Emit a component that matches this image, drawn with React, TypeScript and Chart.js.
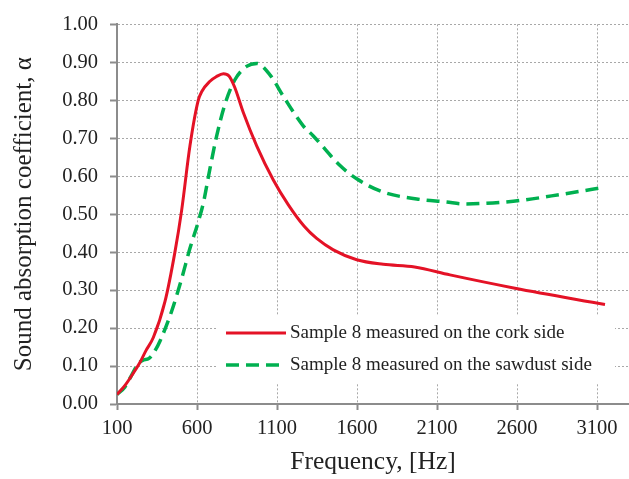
import React, { useEffect, useRef } from 'react';
import { Chart, registerables } from 'chart.js';

Chart.register(...registerables);

const xTickValues = [100, 600, 1100, 1600, 2100, 2600, 3100];
const seriesLabels = [
  'Sample 8 measured on the cork side',
  'Sample 8 measured on the sawdust side',
];

const corkFreq = [100, 150, 200, 244, 280, 327, 400, 462, 504, 556, 608, 630, 681, 720, 765, 800, 835, 890, 973, 1077, 1170, 1270, 1348, 1452, 1598, 1764, 1960, 2181, 2587, 3150];
const corkAlpha = [0.025, 0.049, 0.08, 0.11, 0.14, 0.175, 0.27, 0.40, 0.51, 0.68, 0.80, 0.823, 0.85, 0.862, 0.87, 0.864, 0.835, 0.767, 0.68, 0.59, 0.525, 0.468, 0.436, 0.406, 0.38, 0.368, 0.361, 0.34, 0.305, 0.262];

const sawFreq = [100, 150, 190, 230, 260, 300, 330, 369, 442, 504, 556, 608, 640, 681, 723, 775, 837, 910, 973, 1056, 1140, 1265, 1327, 1494, 1598, 1764, 1973, 2160, 2264, 2577, 2890, 3150];
const sawAlpha = [0.025, 0.045, 0.075, 0.105, 0.115, 0.12, 0.135, 0.166, 0.245, 0.33, 0.41, 0.48, 0.53, 0.62, 0.706, 0.79, 0.854, 0.889, 0.897, 0.867, 0.81, 0.732, 0.706, 0.628, 0.593, 0.558, 0.54, 0.532, 0.527, 0.534, 0.553, 0.571];

const FONT = "'Liberation Serif', 'Times New Roman', serif";
const TEXT = '#222222';
const RED = 'rgb(228,18,38)';
const GREEN = 'rgb(0,176,80)';

const legendPlugin = {
  id: 'boxLegend',
  afterDatasetsDraw(chart: any) {
    const ctx = chart.ctx;
    ctx.save();
    ctx.fillStyle = '#ffffff';
    ctx.fillRect(218, 316, 397, 68);
    const rows = [333, 365];
    chart.data.datasets.forEach((ds: any, i: number) => {
      const yy = rows[i];
      ctx.beginPath();
      ctx.strokeStyle = ds.borderColor;
      ctx.lineWidth = ds.borderWidth;
      ctx.setLineDash(ds.borderDash || []);
      ctx.moveTo(226, yy);
      ctx.lineTo(286, yy);
      ctx.stroke();
      ctx.setLineDash([]);
      ctx.fillStyle = TEXT;
      ctx.font = `19px ${FONT}`;
      ctx.textAlign = 'left';
      ctx.textBaseline = 'middle';
      ctx.fillText(ds.label, 290, yy);
    });
    ctx.restore();
  },
};

export default function App() {
  const ref = useRef<HTMLCanvasElement | null>(null);
  useEffect(() => {
    if (!ref.current) return;
    Chart.defaults.font.family = FONT;
    Chart.defaults.color = TEXT;
    const chart = new Chart(ref.current, {
      type: 'scatter',
      data: {
        datasets: [
          {
            label: seriesLabels[0],
            data: corkFreq.map((f, i) => ({ x: f, y: corkAlpha[i] })),
            showLine: true,
            borderColor: RED,
            backgroundColor: RED,
            borderWidth: 3,
            pointRadius: 0,
            cubicInterpolationMode: 'monotone',
          },
          {
            label: seriesLabels[1],
            data: sawFreq.map((f, i) => ({ x: f, y: sawAlpha[i] })),
            showLine: true,
            borderColor: GREEN,
            backgroundColor: GREEN,
            borderWidth: 3.5,
            borderDash: [13, 7],
            pointRadius: 0,
            cubicInterpolationMode: 'monotone',
          },
        ],
      },
      options: {
        responsive: false,
        animation: false,
        devicePixelRatio: 1,
        layout: { padding: { top: 21, right: 0, left: 0, bottom: 0 } },
        plugins: { legend: { display: false }, tooltip: { enabled: false } },
        scales: {
          x: {
            type: 'linear',
            min: 100,
            max: 3300,
            afterBuildTicks: (axis: any) => {
              axis.ticks = xTickValues.map((v) => ({ value: v }));
            },
            afterFit: (axis: any) => {
              axis.height = 75;
            },
            ticks: {
              font: { size: 20.5 },
              color: TEXT,
              padding: 6,
              maxRotation: 0,
              autoSkip: false,
              callback: (v: any) => String(v),
            },
            grid: {
              color: '#a8a8a8',
              lineWidth: 1,
              tickLength: 6,
              tickColor: '#8c8c8c',
              tickWidth: 2,
              tickBorderDash: [],
            },
            border: { color: '#8c8c8c', width: 2, dash: [2, 2] },
            title: {
              display: true,
              text: 'Frequency, [Hz]',
              font: { size: 25.5 },
              color: TEXT,
              padding: { top: 0, bottom: 1 },
            },
          },
          y: {
            type: 'linear',
            min: 0,
            max: 1,
            afterFit: (axis: any) => {
              axis.width = 117;
            },
            ticks: {
              stepSize: 0.1,
              font: { size: 20.5 },
              color: TEXT,
              padding: 12,
              callback: (v: any) => Number(v).toFixed(2),
            },
            grid: {
              color: '#a8a8a8',
              lineWidth: 1,
              tickLength: 7,
              tickColor: '#8c8c8c',
              tickWidth: 2,
              tickBorderDash: [],
            },
            border: { color: '#8c8c8c', width: 2, dash: [2, 2] },
            title: {
              display: true,
              text: 'Sound absorption coefficient, α',
              font: { size: 25 },
              color: TEXT,
              padding: { top: 9, bottom: 0 },
            },
          },
        },
      },
      plugins: [legendPlugin],
    } as any);
    return () => chart.destroy();
  }, []);
  return (
    <div style={{ position: 'absolute', left: 0, top: 0, width: 629, height: 479 }}>
      <canvas ref={ref} width={629} height={479} />
    </div>
  );
}
